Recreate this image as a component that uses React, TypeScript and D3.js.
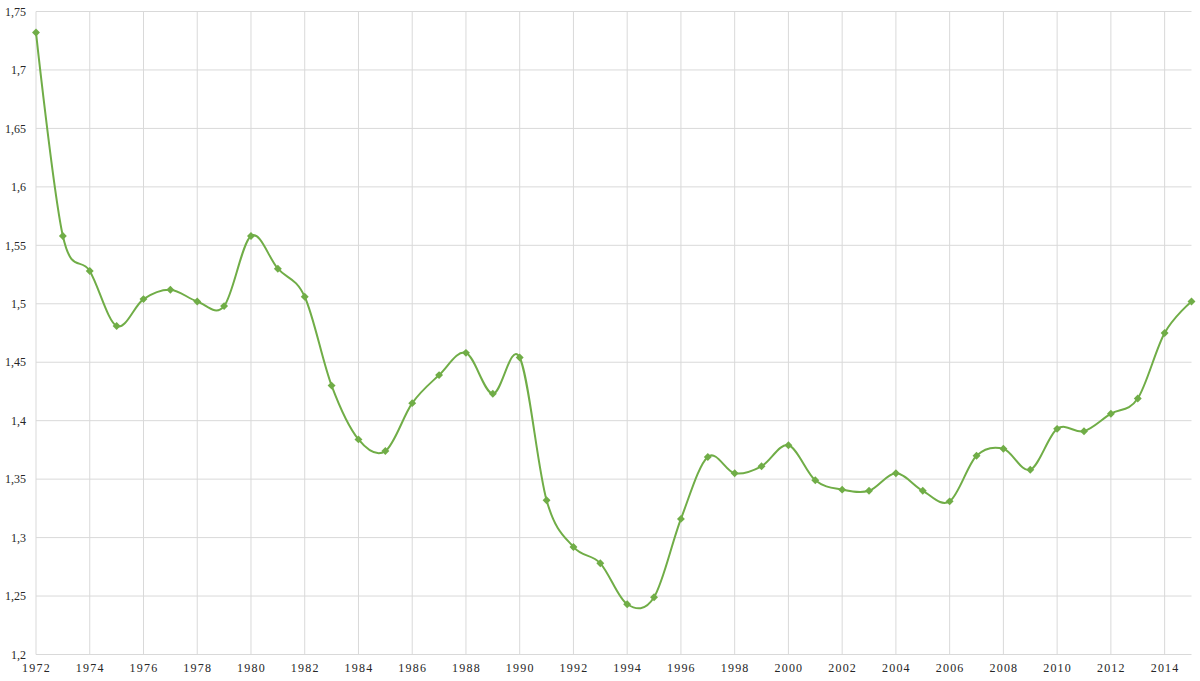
import React from "react";
import * as d3 from "d3";

const years: number[] = [
  1972, 1973, 1974, 1975, 1976, 1977, 1978, 1979, 1980, 1981, 1982, 1983, 1984, 1985,
  1986, 1987, 1988, 1989, 1990, 1991, 1992, 1993, 1994, 1995, 1996, 1997, 1998, 1999,
  2000, 2001, 2002, 2003, 2004, 2005, 2006, 2007, 2008, 2009, 2010, 2011, 2012, 2013,
  2014, 2015,
];
const values: number[] = [
  1.732, 1.558, 1.528, 1.481, 1.504, 1.512, 1.502, 1.498, 1.558, 1.53, 1.506, 1.43, 1.384, 1.374,
  1.415, 1.439, 1.458, 1.423, 1.454, 1.332, 1.292, 1.278, 1.243, 1.249, 1.316, 1.369, 1.355, 1.361,
  1.379, 1.349, 1.341, 1.34, 1.355, 1.34, 1.331, 1.37, 1.376, 1.358, 1.393, 1.391, 1.406, 1.419,
  1.475, 1.502,
];
const yTicks: number[] = [1.2, 1.25, 1.3, 1.35, 1.4, 1.45, 1.5, 1.55, 1.6, 1.65, 1.7, 1.75];
const xTicks: number[] = d3.range(1972, 2015, 2);

const W = 1200;
const H = 681;
const GREEN = "#70AD47";
const GRID = "#d9d9d9";

export default function App() {
  const x = d3.scaleLinear().domain([1972, 2015]).range([36, 1191.5]);
  const y = d3.scaleLinear().domain([1.2, 1.75]).range([654.5, 11.5]);
  const pts = years.map((yr, i) => [x(yr), y(values[i])] as [number, number]);
  const line = d3.line().curve(d3.curveCardinal.tension(0))(pts) || "";
  const fmt = (v: number) => String(+v.toFixed(2)).replace(".", ",");
  const diamond = d3.symbol().type(d3.symbolDiamond2).size(40)() || "";

  return (
    <svg
      width={W}
      height={H}
      style={{ position: "absolute", left: 0, top: 0, background: "#fff" }}
      fontFamily="'Liberation Serif', 'Times New Roman', serif"
    >
      <g>
        {yTicks.map((t) => (
          <line key={"h" + t} x1={36} x2={1191.5} y1={y(t)} y2={y(t)} stroke={GRID} strokeWidth={1} />
        ))}
        {xTicks.map((t) => (
          <line key={"v" + t} x1={x(t)} x2={x(t)} y1={11.5} y2={654.5} stroke={GRID} strokeWidth={1} />
        ))}
      </g>
      <g fontSize={12} fill="#262626">
        {yTicks.map((t) => (
          <text key={"yl" + t} x={26} y={y(t)} dy="0.35em" textAnchor="end">
            {fmt(t)}
          </text>
        ))}
        {xTicks.map((t) => (
          <text key={"xl" + t} x={x(t) + 0.5} y={672} textAnchor="middle" letterSpacing={1.2}>
            {t}
          </text>
        ))}
      </g>
      <path d={line} fill="none" stroke={GREEN} strokeWidth={2} />
      <g fill={GREEN}>
        {pts.map(([px, py], i) => (
          <path key={"m" + i} d={diamond} transform={`translate(${px},${py})`} />
        ))}
      </g>
    </svg>
  );
}
